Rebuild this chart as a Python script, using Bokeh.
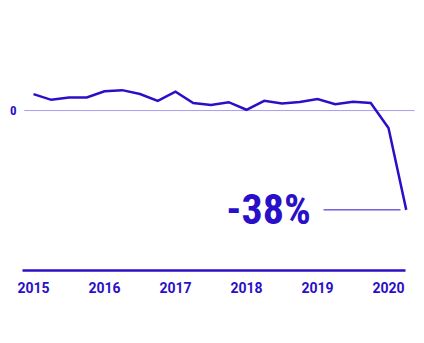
from bokeh.plotting import figure
from bokeh.models import Range1d, FixedTicker
from bokeh.core.properties import value
from bokeh.embed import file_html
from bokeh.resources import INLINE

# Quarterly change (%), 2015 Q1 .. 2020 Q2
quarters = [2015.0, 2015.25, 2015.5, 2015.75,
            2016.0, 2016.25, 2016.5, 2016.75,
            2017.0, 2017.25, 2017.5, 2017.75,
            2018.0, 2018.25, 2018.5, 2018.75,
            2019.0, 2019.25, 2019.5, 2019.75,
            2020.0, 2020.25]
change = [6.3, 4.1, 5.0, 5.0,
          7.4, 7.8, 6.3, 3.7,
          7.2, 2.9, 2.1, 3.2,
          0.3, 3.7, 2.7, 3.3,
          4.4, 2.4, 3.4, 2.9,
          -6.7, -38.0]
year_ticks = [2015, 2016, 2017, 2018, 2019, 2020]
final_label = "-38%"

BLUE = "#2a0fc8"
LIGHT = "#a99cf0"

p = figure(width=424, height=343, output_backend="svg", toolbar_location=None,
           x_range=Range1d(2014.845, 2020.507), y_range=Range1d(-61.2, 42.1),
           min_border_left=22, min_border_right=0, min_border_top=0, min_border_bottom=73)
p.outline_line_color = None
p.xgrid.visible = False
p.ygrid.visible = False
p.border_fill_color = "white"

# zero line
p.segment(x0=[2014.87], y0=[0], x1=[2020.366], y1=[0], line_color=LIGHT, line_width=1)

# data line
p.line(quarters, change, line_color=BLUE, line_width=2.5, line_join="miter")

# annotation leader
p.segment(x0=[2019.085], y0=[change[-1]], x1=[2020.17], y1=[change[-1]], line_color=BLUE, line_width=1)

p.text(x=[2018.31], y=[change[-1]], text=[final_label], text_align="center", text_baseline="middle",
       text_font=value("Roboto Condensed"), text_font_style="bold", text_font_size="42px",
       text_color=BLUE)

# x axis
xa = p.xaxis[0]
xa.ticker = FixedTicker(ticks=year_ticks)
xa.bounds = (2014.845, 2020.24)
xa.axis_line_color = BLUE
xa.axis_line_width = 2.5
xa.major_tick_line_color = None
xa.minor_tick_line_color = None
xa.major_tick_out = 0
xa.major_label_standoff = 11
xa.major_label_text_font = "Roboto"
xa.major_label_text_font_style = "bold"
xa.major_label_text_font_size = "14px"
xa.major_label_text_color = BLUE

# y axis
ya = p.yaxis[0]
ya.ticker = FixedTicker(ticks=[0])
ya.axis_line_color = None
ya.major_tick_line_color = None
ya.minor_tick_line_color = None
ya.major_tick_out = 0
ya.major_label_standoff = 6
ya.major_label_text_font = "Roboto Condensed"
ya.major_label_text_font_style = "bold"
ya.major_label_text_font_size = "13px"
ya.major_label_text_color = BLUE

open("out.html", "w").write(file_html(p, INLINE))
